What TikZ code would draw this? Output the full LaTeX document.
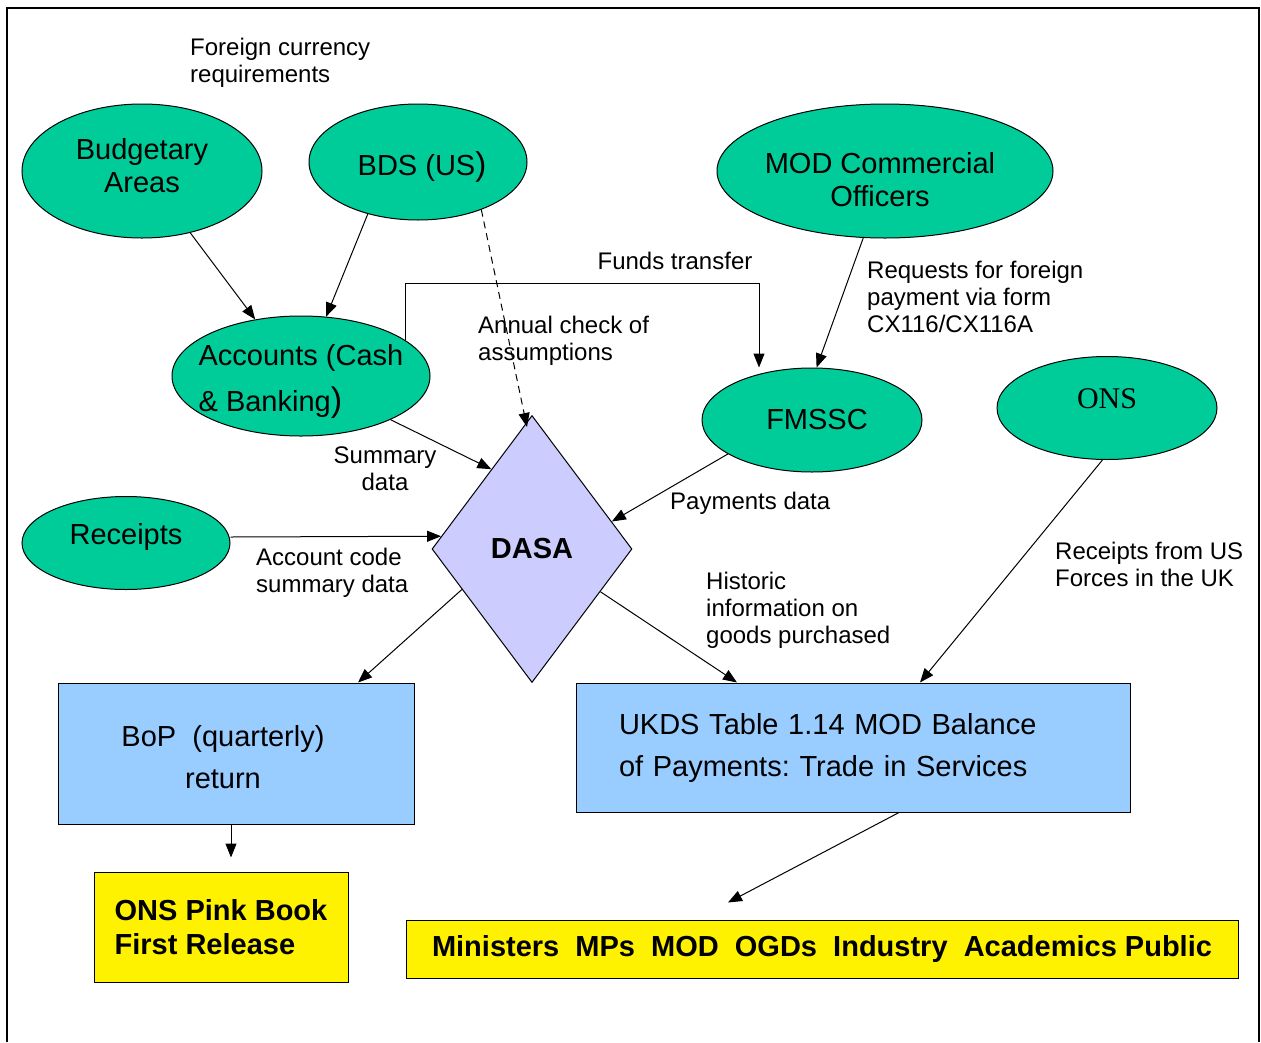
\documentclass[tikz,border=0pt]{standalone}
\usepackage{fontspec}
\setmainfont{Liberation Sans}
\newfontfamily\onsfont{Liberation Serif}
\usetikzlibrary{shapes.geometric, arrows.meta}

\definecolor{unitgreen}{RGB}{0,204,153}
\definecolor{dasablue}{RGB}{204,204,255}
\definecolor{outblue}{RGB}{153,204,255}

\begin{document}
\frenchspacing
\begin{tikzpicture}[
    x=1pt, y=-1pt,
    >={Triangle[length=14pt, width=11pt]},
    every node/.style={font=\fontsize{24}{27}\selectfont, inner sep=0pt},
    every label/.style={align=center, font=\fontsize{29}{33}\selectfont},
    unit/.style={ellipse, draw=black, fill=unitgreen, line width=1pt},
    output/.style={rectangle, draw=black, fill=outblue, line width=1pt, font=\fontsize{29}{42}\selectfont},
    release/.style={rectangle, draw=black, fill=yellow, line width=1pt, font=\bfseries\fontsize{29}{34}\selectfont},
    flow/.style={->, line width=1pt},
    note/.style={align=left, anchor=west}
]
   \useasboundingbox (0,0) rectangle (1261,1042);
   \draw[line width=1.5pt] (7,1042) |- (1259,8) -- (1259,1042);

   % Sources
   \node[unit, minimum width=240pt, minimum height=134pt, label={[yshift=5.5pt]center:Budgetary\\Areas}] (budget) at (142,171) {};
   \node[unit, minimum width=218pt, minimum height=116pt, label={[xshift=4pt, yshift=-5pt]center:BDS (US{\fontsize{33}{33}\selectfont)}}] (bds) at (418,162) {};
   \node[unit, minimum width=336pt, minimum height=134pt, label={[xshift=-5pt, yshift=-8.5pt]center:MOD Commercial\\Officers}] (mod) at (885,171) {};
   \node[unit, minimum width=258pt, minimum height=120pt, label={[yshift=-6pt, align=left, font=\fontsize{29}{46}\selectfont]center:Accounts (Cash\\\& Banking{\fontsize{34}{34}\selectfont)}}] (acc) at (301,376) {};
   \node[unit, minimum width=220pt, minimum height=104pt, label={[xshift=5pt]center:FMSSC}] (fmssc) at (812,420) {};
   \node[unit, minimum width=220pt, minimum height=103pt, label={[yshift=9pt, font=\onsfont\fontsize{30}{33}\selectfont]center:ONS}] (ons) at (1107,408) {};
   \node[unit, minimum width=208pt, minimum height=93pt, label={[yshift=6pt]center:Receipts}] (rec) at (126,543) {};

   % DASA
   \node[diamond, draw=black, fill=dasablue, line width=1pt, minimum width=200pt, minimum height=267pt, font=\bfseries\fontsize{29}{33}\selectfont] (dasa) at (532,549) {DASA};

   % Outputs
   \node[output, minimum width=356pt, minimum height=141pt, label={[xshift=-13pt, yshift=-4pt, font=\fontsize{29}{42}\selectfont]center:BoP\ \ (quarterly)\\return}] (bop) at (236,753.5) {};
   \node[output, align=left, text width=468pt, minimum width=554pt, minimum height=129pt] (ukds) at (853,747.5) {UKDS Table 1.14 MOD Balance\\of Payments: Trade in Services};
   \node[release, align=left, minimum width=254pt, minimum height=110pt] (pink) at (221,927) {ONS Pink Book\\First Release};
   \node[release, minimum width=832pt, minimum height=58pt] (mins) at (822,949) {Ministers\ \ MPs\ \ MOD\ \ OGDs\ \ Industry\ \ Academics Public};

   % Labels
   \node[note] (fcr) at (190,62.5) {Foreign currency\\requirements};
   \node (funds) at (675,261) {Funds transfer};
   \node[note] (annual) at (478,340.5) {Annual check of\\assumptions};
   \node[note] (requests) at (867,297) {Requests for foreign\\payment via form\\CX116/CX116A};
   \node[align=center] (summary) at (385,468.5) {Summary\\data};
   \node[note] (payments) at (670,503) {Payments data};
   \node[note] (acode) at (256,573) {Account code\\summary data};
   \node[note] (historic) at (706,610) {Historic\\information on\\goods purchased};
   \node[note] (usforces) at (1055,564.5) {Receipts from US\\Forces in the UK};

   % Flows
   \path[flow]
   (budget.-52) edge (acc.129)
   (bds.-134) edge (acc.67)
   (acc.-26) edge (dasa.117)
   (mod.-108) edge (fmssc.85)
   (fmssc.-158) edge (dasa.19)
   ([yshift=6pt]rec.east) edge (dasa.172.5)
   (dasa.-150) edge ([xshift=122pt]bop.north)
   (dasa.-32) edge ([xshift=-116pt]ukds.north)
   (ons.-95) edge ([xshift=67pt]ukds.north)
   ([xshift=-5pt]bop.south) edge ([xshift=10pt, yshift=14pt]pink.north)
   ([xshift=46pt]ukds.south) edge ([xshift=-94pt, yshift=17pt]mins.north);

   \draw[flow, dash pattern=on 7pt off 5pt] (bds.-37) -- ([xshift=-5pt, yshift=-12pt]dasa.north); % annual check
   \coordinate (fundsbend) at (759,283);
   \draw[flow] (acc.19) |- (fundsbend) -- (fundsbend |- fmssc.north); % funds transfer
\end{tikzpicture}
\end{document}
